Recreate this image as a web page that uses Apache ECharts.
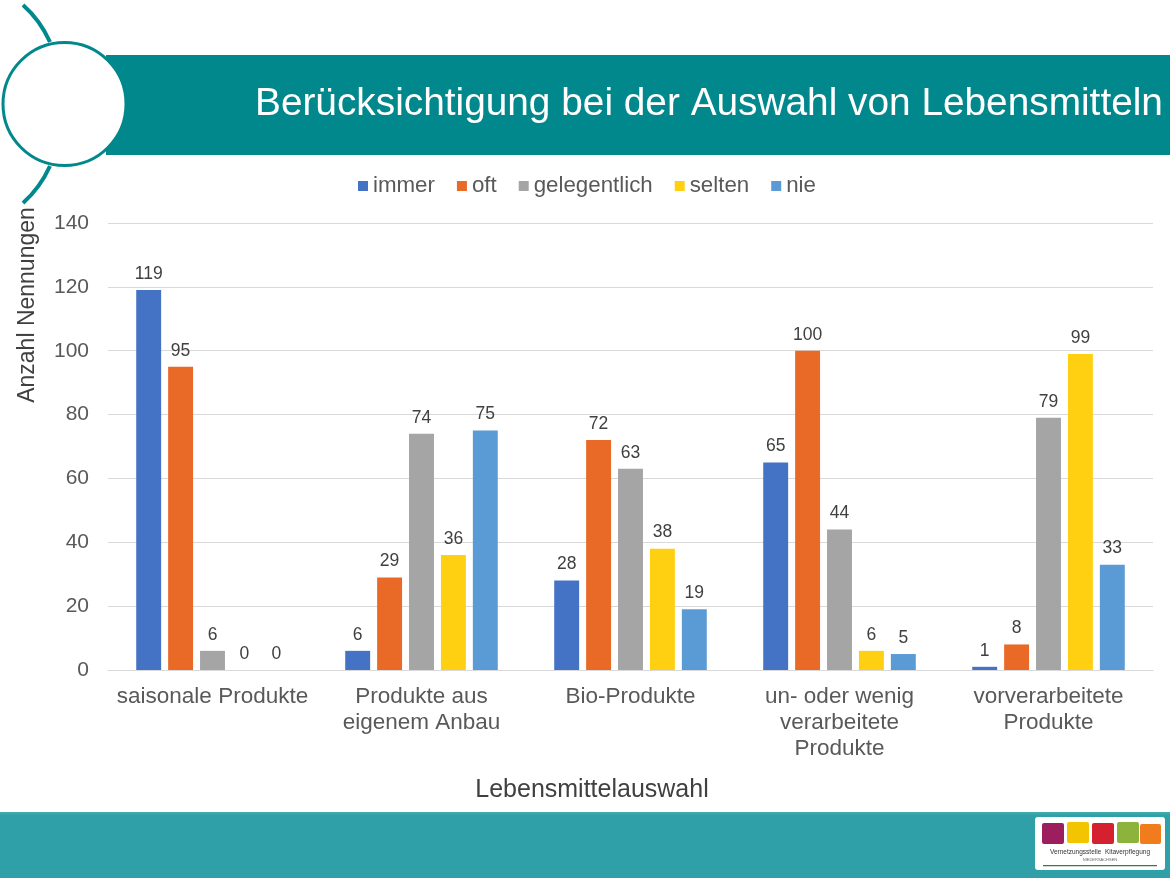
<!DOCTYPE html>
<html>
<head>
<meta charset="utf-8">
<script src="https://cdn.jsdelivr.net/npm/echarts@6/dist/echarts.min.js"></script>
<style>
html,body{margin:0;padding:0;background:#fff;}
#chart{width:1170px;height:878px;}
</style>
</head>
<body>
<div id="chart"></div>
<script>
const categories = ["saisonale Produkte", "Produkte aus\neigenem Anbau", "Bio-Produkte", "un- oder wenig\nverarbeitete\nProdukte", "vorverarbeitete\nProdukte"];
const seriesNames = ["immer", "oft", "gelegentlich", "selten", "nie"];
const immer = [119, 6, 28, 65, 1];
const oft = [95, 29, 72, 100, 8];
const gelegentlich = [6, 74, 63, 44, 79];
const selten = [0, 36, 38, 6, 99];
const nie = [0, 75, 19, 5, 33];
const yTicks = { min: 0, max: 140, interval: 20 };
const colors = ["#4472C4", "#E96A27", "#A5A5A5", "#FFD012", "#5B9BD5"];

const FONT = "'Liberation Sans', Arial, sans-serif";
const teal = "#00888C";
const values = [immer, oft, gelegentlich, selten, nie];

const chart = echarts.init(document.getElementById('chart'), null, {renderer: 'canvas'});
chart.setOption({
  animation: false,
  backgroundColor: '#ffffff',
  textStyle: { fontFamily: FONT },
  color: colors,
  legend: {
    data: seriesNames,
    left: 358,
    top: 175,
    padding: 0,
    itemWidth: 10,
    itemHeight: 10,
    itemGap: 22,
    icon: 'rect',
    textStyle: { fontSize: 22.3, color: '#595959', fontFamily: FONT }
  },
  grid: { left: 108, right: 17, top: 223, bottom: 208, containLabel: false },
  xAxis: {
    type: 'category',
    data: categories,
    axisLine: { lineStyle: { color: '#D9D9D9', width: 1 } },
    axisTick: { show: false },
    axisLabel: { fontSize: 22.5, color: '#595959', lineHeight: 26, margin: 14, interval: 0, fontFamily: FONT }
  },
  yAxis: {
    type: 'value',
    min: yTicks.min, max: yTicks.max, interval: yTicks.interval,
    axisLine: { show: false },
    axisTick: { show: false },
    splitLine: { lineStyle: { color: '#D9D9D9', width: 1 } },
    axisLabel: { fontSize: 21, color: '#595959', margin: 19, fontFamily: FONT }
  },
  series: seriesNames.map((n, i) => ({
    name: n,
    type: 'bar',
    data: values[i],
    barGap: '28%',
    barCategoryGap: '27%',
    itemStyle: { color: colors[i] },
    label: { show: true, position: 'top', distance: 7, fontSize: 17.5, color: '#404040', fontFamily: FONT }
  })),
  graphic: [
    { type: 'rect', z: -10, shape: { x: 106, y: 55, width: 1064, height: 100 }, style: { fill: teal } },
    { type: 'bezierCurve', z: -5, shape: { x1: 23, y1: 5, x2: 50, y2: 42, cpx1: 40, cpy1: 20 }, style: { stroke: teal, lineWidth: 4, fill: null } },
    { type: 'bezierCurve', z: -5, shape: { x1: 50, y1: 166, x2: 23, y2: 203, cpx1: 40, cpy1: 188 }, style: { stroke: teal, lineWidth: 4, fill: null } },
    { type: 'circle', z: -4, shape: { cx: 64.5, cy: 104, r: 61.5 }, style: { fill: '#ffffff', stroke: teal, lineWidth: 3 } },
    { type: 'text', z: 5, x: 255, y: 104, style: { text: 'Berücksichtigung bei der Auswahl von Lebensmitteln', fill: '#ffffff', fontSize: 38.8, fontFamily: FONT, verticalAlign: 'middle' } },
    { type: 'text', z: 5, x: 28, y: 305, rotation: Math.PI / 2, style: { text: 'Anzahl Nennungen', fill: '#404040', fontSize: 23, fontFamily: FONT, align: 'center', verticalAlign: 'middle' } },
    { type: 'text', z: 5, x: 592, y: 790, style: { text: 'Lebensmittelauswahl', fill: '#404040', fontSize: 25, fontFamily: FONT, align: 'center', verticalAlign: 'middle' } },
    { type: 'rect', z: -10, shape: { x: 0, y: 812, width: 1170, height: 66 }, style: { fill: new echarts.graphic.LinearGradient(0, 0, 0, 1, [{offset: 0, color: '#44AEB3'}, {offset: 0.05, color: '#2FA0A7'}, {offset: 1, color: '#2FA0A7'}]) } },
    { type: 'rect', z: 1, shape: { x: 1035, y: 817, width: 130, height: 53, r: 3 }, style: { fill: '#ffffff' } },
    { type: 'rect', z: 2, shape: { x: 1042, y: 823, width: 22, height: 21, r: 2 }, style: { fill: '#9C1E5C' } },
    { type: 'rect', z: 2, shape: { x: 1067, y: 822, width: 22, height: 21, r: 2 }, style: { fill: '#F2C500' } },
    { type: 'rect', z: 2, shape: { x: 1092, y: 823, width: 22, height: 21, r: 2 }, style: { fill: '#D52030' } },
    { type: 'rect', z: 2, shape: { x: 1117, y: 822, width: 22, height: 21, r: 2 }, style: { fill: '#8CB43C' } },
    { type: 'rect', z: 2, shape: { x: 1140, y: 824, width: 21, height: 20, r: 2 }, style: { fill: '#F07C1E' } },
    { type: 'text', z: 3, x: 1100, y: 852, style: { text: 'Vernetzungsstelle  Kitaverpflegung', fill: '#333', fontSize: 6.5, fontFamily: FONT, align: 'center', verticalAlign: 'middle' } },
    { type: 'text', z: 3, x: 1100, y: 860, style: { text: 'NIEDERSACHSEN', fill: '#666', fontSize: 4, fontFamily: FONT, align: 'center', verticalAlign: 'middle' } },
    { type: 'rect', z: 3, shape: { x: 1043, y: 865, width: 114, height: 1.2 }, style: { fill: '#3E7A3A' } }
  ]
});
</script>
</body>
</html>
